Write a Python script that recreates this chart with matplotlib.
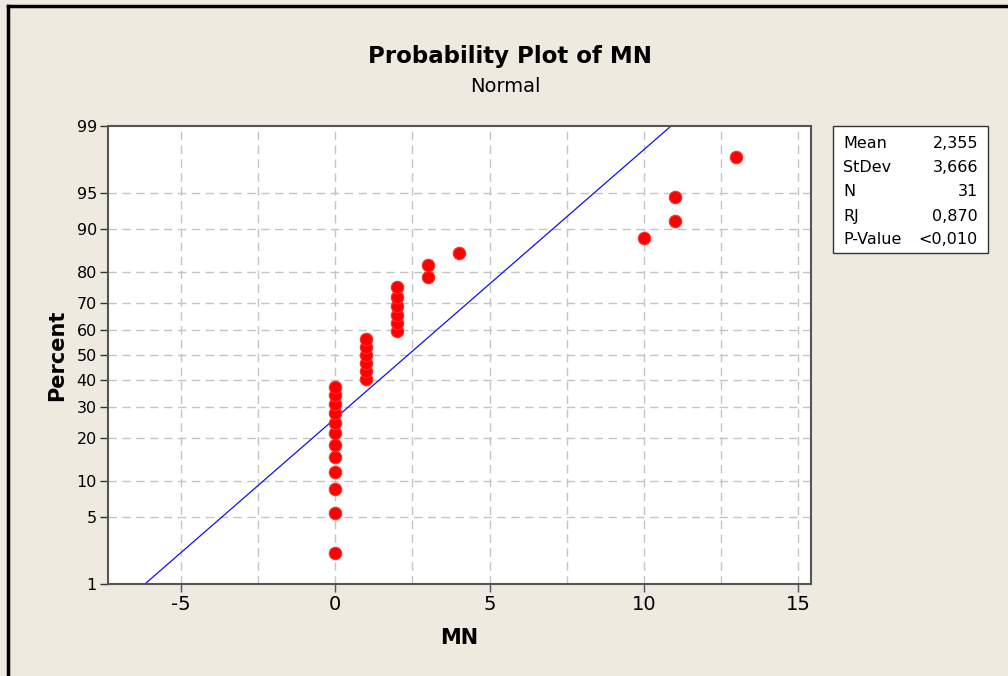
import numpy as np
import matplotlib
matplotlib.use("Agg")
import matplotlib.pyplot as plt
from matplotlib.lines import Line2D
from matplotlib.patches import Rectangle
from statistics import NormalDist

# ---- data ----
mn_values = [0, 0, 0, 0, 0, 0, 0, 0, 0, 0, 0, 0,
             1, 1, 1, 1, 1, 1,
             2, 2, 2, 2, 2, 2,
             3, 3, 4, 10, 11, 11, 13]
y_ticks = [1, 5, 10, 20, 30, 40, 50, 60, 70, 80, 90, 95, 99]
x_ticks = [-5, 0, 5, 10, 15]
x_grid = [-5, -2.5, 0, 2.5, 5, 7.5, 10, 12.5, 15]
y_grid = [5, 10, 20, 30, 40, 50, 60, 70, 80, 90, 95]
stat_labels = ["Mean", "StDev", "N", "RJ", "P-Value"]
stat_values = ["2,355", "3,666", "31", "0,870", "<0,010"]

x = np.sort(np.array(mn_values, dtype=float))
n = len(x)
ranks = np.arange(1, n + 1)
pct = (ranks - 0.3) / (n + 0.4) * 100.0
mean = x.mean()
sd = x.std(ddof=1)

nd = NormalDist()
_inv = np.vectorize(lambda p: nd.inv_cdf(min(max(p / 100.0, 1e-9), 1 - 1e-9)), otypes=[float])
_cdf = np.vectorize(lambda z: nd.cdf(z) * 100.0, otypes=[float])


def fwd(p):
    return _inv(np.asarray(p, dtype=float))


def inv(z):
    return _cdf(np.asarray(z, dtype=float))


BG = "#EEEAE0"
fig = plt.figure(figsize=(10.08, 6.76), dpi=100, facecolor=BG)
ax = fig.add_axes([108 / 1008, 1 - 584 / 676, (811 - 108) / 1008, (584 - 126) / 676])
ax.set_facecolor("white")
ax.set_yscale("function", functions=(fwd, inv))
ax.set_ylim(1, 99)
ax.set_xlim(-7.37, 15.42)

for gx in x_grid:
    ax.axvline(gx, color="#C4C4C4", lw=1, ls=(0, (6, 4)), zorder=0)
for gy in y_grid:
    ax.axhline(gy, color="#C4C4C4", lw=1, ls=(0, (6, 4)), zorder=0)

# fitted line
line_p = np.array([1.0, 99.0])
line_x = mean + sd * np.array([nd.inv_cdf(p / 100) for p in line_p])
ax.plot(line_x, line_p, color="#1010F0", lw=0.9, zorder=2, clip_on=True)

ax.scatter(x, pct, s=80, color="#FF0000", edgecolors="#FF3030", linewidths=0.8, zorder=3)

ax.set_yticks(y_ticks)
ax.set_yticklabels([str(t) for t in y_ticks])
ax.set_xticks(x_ticks)
ax.set_xticklabels([str(t) for t in x_ticks])
ax.yaxis.set_minor_locator(matplotlib.ticker.NullLocator())
ax.tick_params(axis="y", labelsize=11.5, length=6, width=1, color="#333333", pad=2)
ax.tick_params(axis="x", labelsize=14, length=6, width=1, color="#555555", pad=2)
for s in ax.spines.values():
    s.set_color("#555555")
    s.set_linewidth(1.5)

ax.set_xlabel("MN", fontsize=15, fontweight="bold", labelpad=10)
ax.set_ylabel("Percent", fontsize=15, fontweight="bold", labelpad=7)

fig.text(510 / 1008, 1 - 56 / 676, "Probability Plot of MN", ha="center", va="center",
         fontsize=16.5, fontweight="bold")
fig.text(505 / 1008, 1 - 87 / 676, "Normal", ha="center", va="center", fontsize=14)

# stats box
fig.patches.append(Rectangle((833 / 1008, 1 - 253 / 676), (988 - 833) / 1008, (253 - 126) / 676,
                             transform=fig.transFigure, facecolor="white", edgecolor="#333333",
                             lw=1, zorder=1))
rows_y = [143, 167, 192, 216, 240]
for lab, val, yy in zip(stat_labels, stat_values, rows_y):
    fig.text(843 / 1008, 1 - yy / 676, lab, ha="left", va="center", fontsize=11.5, zorder=2)
    fig.text(978 / 1008, 1 - yy / 676, val, ha="right", va="center", fontsize=11.5, zorder=2)

# outer frame (left and top)
fig.lines.append(Line2D([8 / 1008, 8 / 1008], [0, 1 - 6 / 676], transform=fig.transFigure,
                        color="black", lw=2.5))
fig.lines.append(Line2D([8 / 1008, 1], [1 - 6 / 676, 1 - 6 / 676], transform=fig.transFigure,
                        color="black", lw=2.5))

fig.savefig("out.png", dpi=100, facecolor=BG)
